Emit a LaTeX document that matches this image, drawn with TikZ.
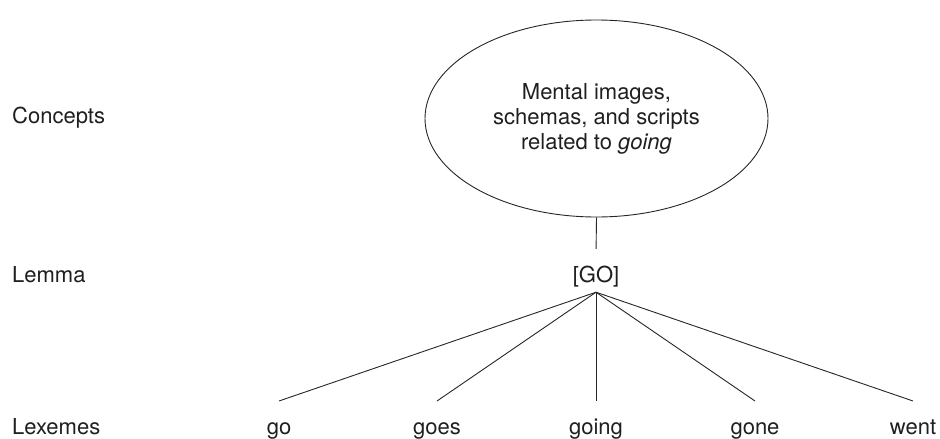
\documentclass[tikz,border=0pt]{standalone}
\usepackage{fontspec}
\setmainfont{TeX Gyre Heros}
\usetikzlibrary{shapes.geometric}
\begin{document}
\begin{tikzpicture}[x=1pt,y=-1pt,
  every node/.style={text=black!88},
  lbl/.style={anchor=base west, inner sep=0pt, font=\fontsize{22}{25}\selectfont},
  word/.style={anchor=north, inner sep=0pt, text height=33pt, text depth=5pt, font=\fontsize{22}{25}\selectfont},
  ln/.style={line width=0.9pt, draw=black!85},
  conc/.style={ellipse, draw=black!85, line width=0.9pt, minimum width=343pt, minimum height=197pt, inner sep=0pt, align=center, font=\fontsize{22}{25}\selectfont}
]
\useasboundingbox (0,0) rectangle (940,439);

\node[lbl] (lconc) at (12,123) {Concepts};
\node[lbl] (llem) at (12,282) {Lemma};
\node[lbl] (llex) at (12,434) {Lexemes};

\node[conc] (ell) at (596.5,118.5) {Mental images,\\schemas, and scripts\\related to \textit{going}};

\node[anchor=base, inner xsep=0pt, inner ysep=10pt, text height=16pt, text depth=0pt, font=\fontsize{22}{25}\selectfont] (go0) at (596,282) {[GO]};

\node[word] (w1) at (279,401) {go};
\node[word] (w2) at (437,401) {goes};
\node[word] (w3) at (596,401) {going};
\node[word] (w4) at (755,401) {gone};
\node[word] (w5) at (913,401) {went};

\draw[ln, shorten >=7pt] (ell.south) -- (go0.north);
\foreach \w in {w1,w2,w3,w4,w5}
  \draw[ln] (go0.south) -- (\w.north);
\end{tikzpicture}
\end{document}
